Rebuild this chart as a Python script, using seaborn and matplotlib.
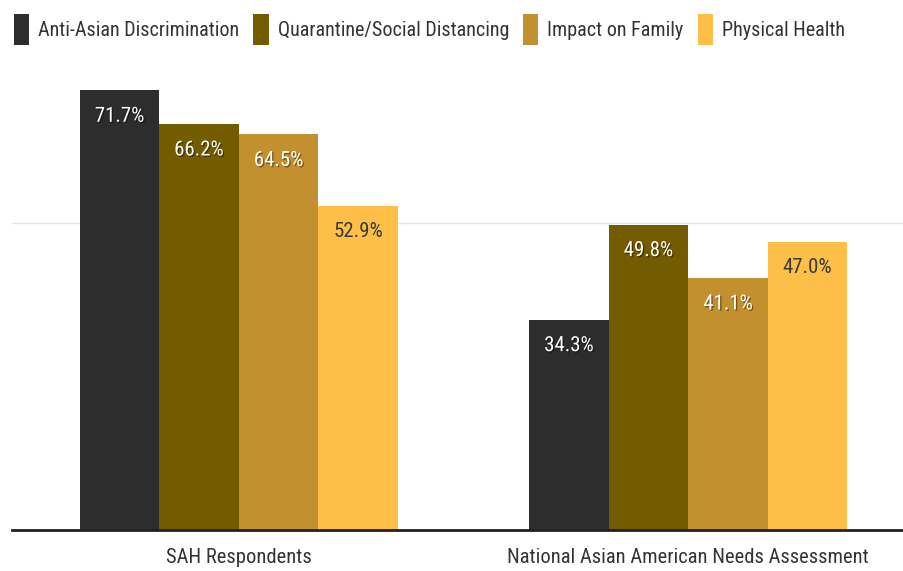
import matplotlib
matplotlib.use("Agg")
import matplotlib.pyplot as plt
import matplotlib.patheffects as pe
from matplotlib import font_manager as fm
import seaborn as sns
import pandas as pd

groups = ["SAH Respondents", "National Asian American Needs Assessment"]
series = ["Anti-Asian Discrimination", "Quarantine/Social Distancing", "Impact on Family", "Physical Health"]
values = {
    "Anti-Asian Discrimination": [71.7, 34.3],
    "Quarantine/Social Distancing": [66.2, 49.8],
    "Impact on Family": [64.5, 41.1],
    "Physical Health": [52.9, 47.0],
}
colors = ["#2d2d2d", "#735b00", "#c3902f", "#fdbf48"]
label_colors = ["white", "white", "white", "#3a3a3a"]

rows = []
for s in series:
    for g, v in zip(groups, values[s]):
        rows.append({"group": g, "series": s, "value": v})
df = pd.DataFrame(rows)

sns.set_theme(style="white")
avail = {f.name for f in fm.fontManager.ttflist}
fam = next((f for f in ["Roboto Condensed", "Liberation Sans Narrow", "Roboto", "DejaVu Sans"] if f in avail), "DejaVu Sans")
plt.rcParams["font.family"] = [fam, "DejaVu Sans"]

fig = plt.figure(figsize=(9.04, 5.71), dpi=100)
ax = fig.add_axes([12 / 904, 41 / 571, 892 / 904, 460 / 571])

sns.barplot(data=df, x="group", y="value", hue="series", hue_order=series, order=groups,
            palette=colors, saturation=1, width=0.708, dodge=True, ax=ax, legend=True,
            linewidth=0, errorbar=None)

ax.set_xlim(-0.505, 1.48)
ax.set_ylim(0, 75)
ax.set_yticks([])
ax.set_xlabel("")
ax.set_ylabel("")
ax.axhline(50, color="#e6e6e6", lw=1, zorder=0)
for sp in ["top", "right", "left"]:
    ax.spines[sp].set_visible(False)
ax.spines["bottom"].set_color("#222222")
ax.spines["bottom"].set_linewidth(2)
ax.tick_params(axis="x", length=0, pad=13, labelsize=14.8, labelcolor="#333333")

for cont, lc in zip(ax.containers, label_colors):
    for bar in cont:
        h = bar.get_height()
        txt = ax.annotate(f"{h:.1f}%", xy=(bar.get_x() + bar.get_width() / 2, h),
                          xytext=(0, -26), textcoords="offset pixels",
                          ha="center", va="center", fontsize=15, color=lc)
        if lc == "white":
            txt.set_path_effects([pe.withSimplePatchShadow(offset=(1, -1), shadow_rgbFace="black", alpha=0.4)])

ax.legend(loc="upper left", bbox_to_anchor=(0.0, 1.0), bbox_transform=fig.transFigure,
          ncol=4, frameon=False, fontsize=14.5, handlelength=0.75, handleheight=2.0,
          handletextpad=0.45, columnspacing=0.7, borderaxespad=0.3, labelcolor="#333333")

fig.savefig("out.png", dpi=100)
